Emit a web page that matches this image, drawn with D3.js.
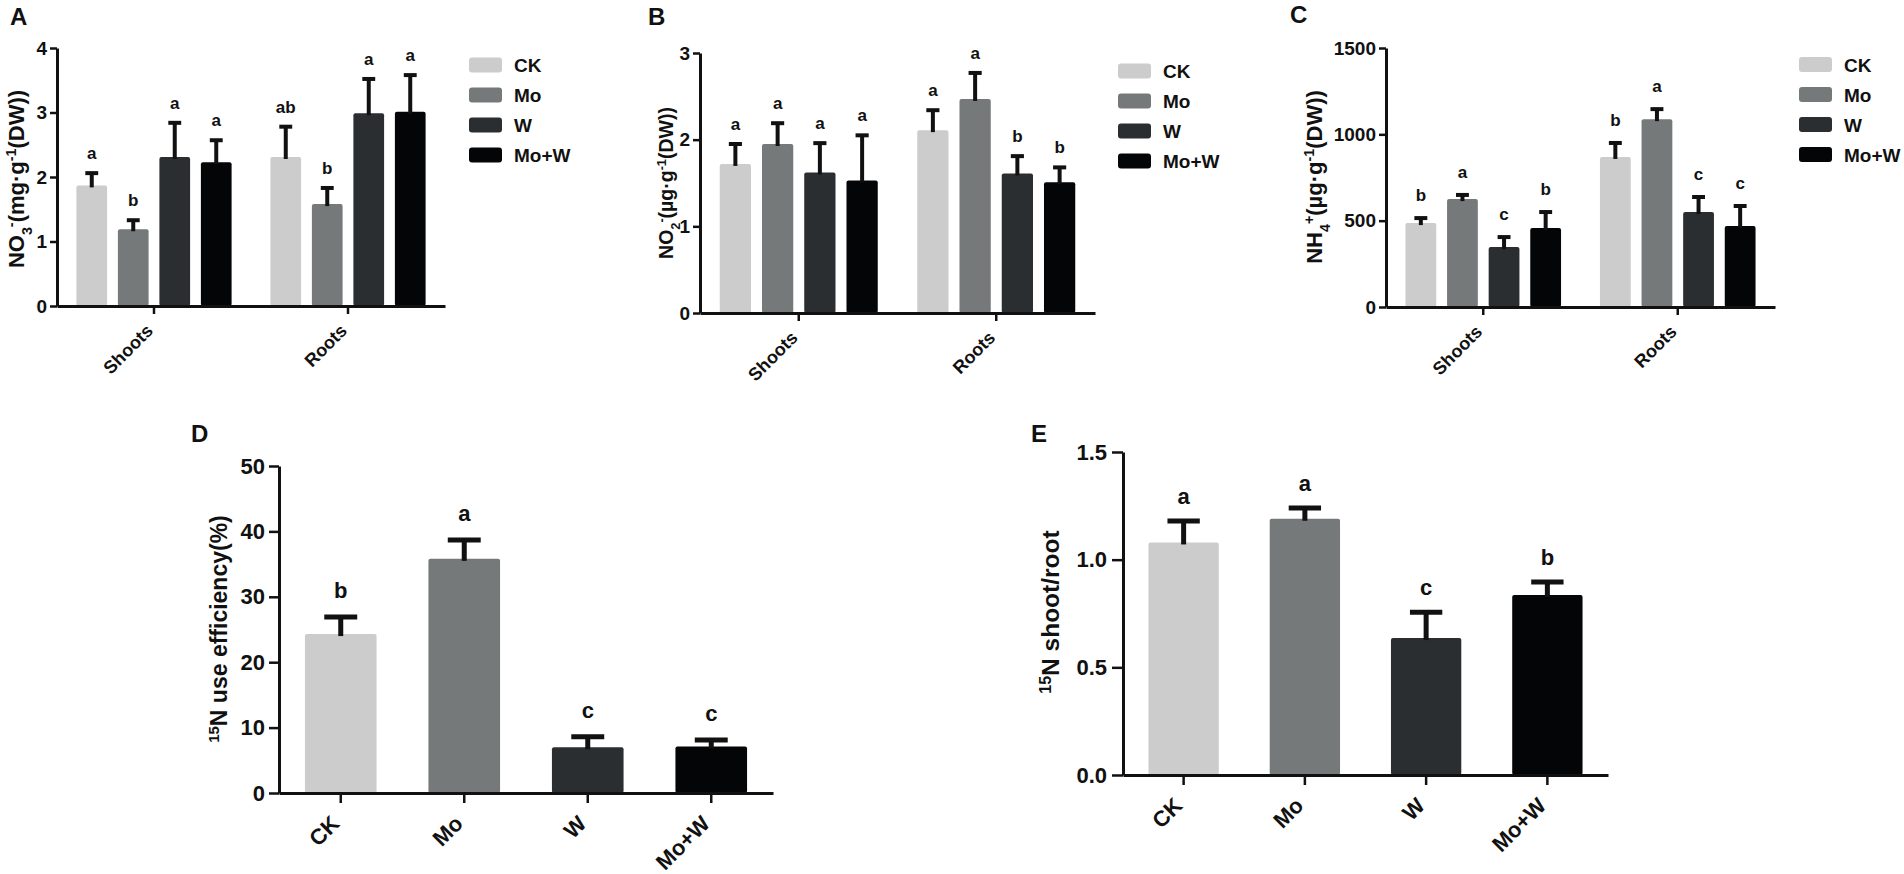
<!DOCTYPE html>
<html>
<head>
<meta charset="utf-8">
<script src="https://cdn.jsdelivr.net/npm/d3@7"></script>
<style>
  body { margin: 0; background: #fff; }
  svg { display: block; font-family: "Liberation Sans", Arial, Helvetica, sans-serif; }
</style>
</head>
<body>
<svg id="chart" width="1904" height="874"></svg>
<script>
// treatments and tissues
const treatments = ["CK", "Mo", "W", "Mo+W"];
const tissues = ["Shoots", "Roots"];
const barColors = ["#cbcccb", "#76797a", "#2b2e30", "#040507"];

// A: NO3- content (mg/g DW), rows = Shoots, Roots
const no3Mean = [[1.87, 1.19, 2.31, 2.23], [2.31, 1.58, 2.99, 3.01]];
const no3Sd = [[0.19, 0.14, 0.53, 0.34], [0.47, 0.25, 0.53, 0.57]];
const no3Sig = [["a", "b", "a", "a"], ["ab", "b", "a", "a"]];

// B: NO2- content (ug/g DW)
const no2Mean = [[1.72, 1.95, 1.62, 1.53], [2.11, 2.47, 1.61, 1.51]];
const no2Sd = [[0.23, 0.24, 0.34, 0.52], [0.23, 0.30, 0.20, 0.17]];
const no2Sig = [["a", "a", "a", "a"], ["a", "a", "b", "b"]];

// C: NH4+ content (ug/g DW)
const nh4Mean = [[486, 625, 347, 457], [869, 1088, 550, 469]];
const nh4Sd = [[29, 24, 58, 93], [81, 58, 87, 116]];
const nh4Sig = [["b", "a", "c", "b"], ["b", "a", "c", "c"]];

// D: 15N use efficiency (%)
const nueMean = [24.3, 35.8, 7.0, 7.1];
const nueSd = [2.6, 2.9, 1.6, 1.0];
const nueSig = ["b", "a", "c", "c"];

// E: 15N shoot/root ratio
const ratioMean = [1.08, 1.19, 0.636, 0.836];
const ratioSd = [0.10, 0.05, 0.12, 0.06];
const ratioSig = ["a", "a", "c", "b"];

// tick values
const ticksA = [0, 1, 2, 3, 4];
const ticksB = [0, 1, 2, 3];
const ticksC = [0, 500, 1000, 1500];
const ticksD = [0, 10, 20, 30, 40, 50];
const ticksE = [0, 0.5, 1.0, 1.5];

const svg = d3.select("#chart");
const ink = "#111";

// text with sub/superscript parts: [text, shift]
function richText(sel, parts, size) {
  parts.forEach(p => {
    const ts = sel.append("tspan").text(p[0]);
    if (p[1]) ts.style("baseline-shift", p[1]).style("font-size", (size * 0.65) + "px");
  });
}

function yLabel(x, y, size, parts) {
  const t = svg.append("text")
    .attr("transform", `translate(${x},${y}) rotate(-90)`)
    .attr("text-anchor", "middle")
    .style("font-weight", "bold")
    .style("font-size", size + "px")
    .attr("fill", ink);
  richText(t, parts, size);
}

function panelLetter(x, y, s) {
  svg.append("text").attr("x", x).attr("y", y)
    .style("font-weight", "bold").style("font-size", "24px")
    .attr("fill", ink).text(s);
}

function drawAxes(g, x, y, p, fmt) {
  const ya = g.append("g")
    .attr("transform", `translate(${p.left},0)`)
    .call(d3.axisLeft(y).tickValues(p.ticks).tickSize(p.ytick).tickPadding(p.ypad)
      .tickSizeOuter(0).tickFormat(fmt));
  ya.select(".domain").attr("stroke", ink).attr("stroke-width", 3);
  ya.selectAll(".tick line").attr("stroke", ink).attr("stroke-width", 2.5);
  ya.selectAll(".tick text").attr("fill", ink)
    .style("font-size", p.tickFont + "px").style("font-weight", "bold").style("font-family", null);

  const xa = g.append("g")
    .attr("transform", `translate(0,${p.bottom})`)
    .call(d3.axisBottom(x).tickSize(p.xtick).tickSizeOuter(0).tickFormat(""));
  xa.select(".domain").attr("stroke", ink).attr("stroke-width", 3);
  xa.selectAll(".tick line").attr("stroke", ink).attr("stroke-width", 2.5);

  // rotated category labels
  g.selectAll(".xlab").data(x.domain()).join("text")
    .attr("class", "xlab")
    .attr("transform", d => `translate(${x(d) + x.bandwidth() / 2},${p.bottom + p.xlabOff}) rotate(-45)`)
    .attr("text-anchor", "end")
    .style("font-weight", "bold")
    .style("font-size", p.xFont + "px")
    .attr("fill", ink)
    .text(d => d);
}

function drawBars(g, rows, y, p) {
  g.selectAll("rect.bar").data(rows).join("rect")
    .attr("class", "bar")
    .attr("x", d => d.x)
    .attr("y", d => y(d.m))
    .attr("width", d => d.w)
    .attr("height", d => y(0) - y(d.m))
    .attr("rx", 2)
    .attr("fill", d => barColors[d.j]);

  // upper error bars
  g.selectAll("line.stem").data(rows).join("line")
    .attr("class", "stem")
    .attr("x1", d => d.x + d.w / 2).attr("x2", d => d.x + d.w / 2)
    .attr("y1", d => y(d.m) + 2).attr("y2", d => y(d.m + d.sd))
    .attr("stroke", ink).attr("stroke-width", p.errW);
  g.selectAll("line.cap").data(rows).join("line")
    .attr("class", "cap")
    .attr("x1", d => d.x + d.w / 2 - d.w * p.capFrac / 2)
    .attr("x2", d => d.x + d.w / 2 + d.w * p.capFrac / 2)
    .attr("y1", d => y(d.m + d.sd)).attr("y2", d => y(d.m + d.sd))
    .attr("stroke", ink).attr("stroke-width", p.errW);

  // significance letters
  g.selectAll("text.sig").data(rows).join("text")
    .attr("class", "sig")
    .attr("x", d => d.x + d.w / 2)
    .attr("y", d => y(d.m + d.sd) - p.sigGap)
    .attr("text-anchor", "middle")
    .style("font-weight", "bold")
    .style("font-size", p.sigFont + "px")
    .attr("fill", ink)
    .text(d => d.s);
}

function drawLegend(x, cy) {
  const lg = svg.append("g");
  treatments.forEach((t, i) => {
    lg.append("rect")
      .attr("x", x).attr("y", cy + i * 30 - 7.5)
      .attr("width", 33).attr("height", 15).attr("rx", 3)
      .attr("fill", barColors[i]);
    lg.append("text")
      .attr("x", x + 45).attr("y", cy + i * 30 + 7)
      .style("font-weight", "bold").style("font-size", "19px")
      .attr("fill", ink).text(t);
  });
}

function groupedPanel(p, means, sds, sig) {
  const g = svg.append("g");
  const x0 = d3.scaleBand().domain(tissues).range([p.left, p.right])
    .paddingInner(0.2).paddingOuter(0.1);
  const x1 = d3.scaleBand().domain(treatments).range([0, x0.bandwidth()])
    .paddingInner(0.26);
  const y = d3.scaleLinear().domain([0, p.max]).range([p.bottom, p.top]);

  const rows = [];
  tissues.forEach((t, i) => treatments.forEach((tr, j) => rows.push({
    x: x0(t) + x1(tr), w: x1.bandwidth(), j: j,
    m: means[i][j], sd: sds[i][j], s: sig[i][j]
  })));

  drawBars(g, rows, y, p);
  drawAxes(g, x0, y, p, d3.format("d"));
}

function simplePanel(p, means, sds, sig, fmt) {
  const g = svg.append("g");
  const x = d3.scaleBand().domain(treatments).range([p.left, p.right])
    .paddingInner(0.42).paddingOuter(0.21);
  const y = d3.scaleLinear().domain([0, p.max]).range([p.bottom, p.top]);
  const rows = treatments.map((t, j) => ({
    x: x(t), w: x.bandwidth(), j: j, m: means[j], sd: sds[j], s: sig[j]
  }));
  drawBars(g, rows, y, p);
  drawAxes(g, x, y, p, fmt);
}

const topStyle = { ytick: 7, ypad: 3, xtick: 8, xlabOff: 26, tickFont: 19, xFont: 18,
  errW: 4, capFrac: 0.42, sigFont: 17, sigGap: 14 };
const lowStyle = { ytick: 10, ypad: 4, xtick: 10, xlabOff: 32, tickFont: 22, xFont: 22,
  errW: 5, capFrac: 0.46, sigFont: 22, sigGap: 19 };

// panel A
groupedPanel(Object.assign({}, topStyle, { left: 57, right: 445, top: 48, bottom: 306, max: 4, ticks: ticksA }),
  no3Mean, no3Sd, no3Sig);
panelLetter(10, 25, "A");
yLabel(24, 179, 22, [["NO"], ["3", "sub"], ["-", "super"], ["(mg\u00b7g"], ["-1", "super"], ["(DW))"]]);
drawLegend(469, 65);

// panel B
groupedPanel(Object.assign({}, topStyle, { left: 700, right: 1095, top: 53, bottom: 313, max: 3, ticks: ticksB }),
  no2Mean, no2Sd, no2Sig);
panelLetter(648, 25, "B");
yLabel(673, 183, 19.5, [["NO"], ["2", "sub"], ["-", "super"], ["(\u00b5g\u00b7g"], ["-1", "super"], ["(DW))"]]);
drawLegend(1118, 71);

// panel C
groupedPanel(Object.assign({}, topStyle, { left: 1386, right: 1775, top: 48, bottom: 307, max: 1500, ticks: ticksC, sigGap: 17 }),
  nh4Mean, nh4Sd, nh4Sig);
panelLetter(1290, 23, "C");
yLabel(1322, 177, 22, [["NH"], ["4", "sub"], ["+", "super"], ["(\u00b5g\u00b7g"], ["-1", "super"], ["(DW))"]]);
drawLegend(1799, 64.5);

// panel D
simplePanel(Object.assign({}, lowStyle, { left: 279, right: 773, top: 466, bottom: 793, max: 50, ticks: ticksD }),
  nueMean, nueSd, nueSig, d3.format("d"));
panelLetter(191, 442, "D");
yLabel(227, 629, 23, [["15", "super"], ["N use efficiency(%)"]]);

// panel E
simplePanel(Object.assign({}, lowStyle, { left: 1123, right: 1608, top: 452, bottom: 775, max: 1.5, ticks: ticksE, ytick: 11, ypad: 5, sigGap: 17 }),
  ratioMean, ratioSd, ratioSig, d3.format(".1f"));
panelLetter(1031, 442, "E");
yLabel(1059, 612, 24.5, [["15", "super"], ["N shoot/root"]]);
</script>
</body>
</html>
